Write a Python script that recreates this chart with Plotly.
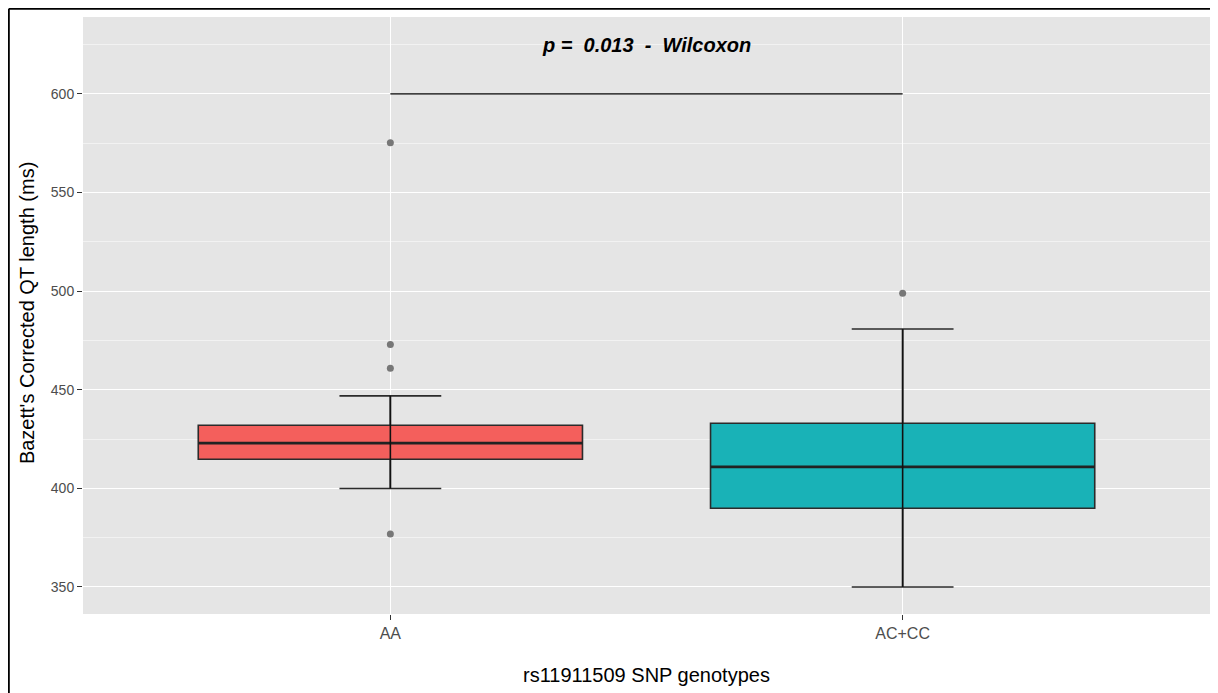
import plotly.graph_objects as go

categories = ["AA", "AC+CC"]
q1 = [414.8, 389.9]
median = [422.9, 410.9]
q3 = [432.0, 433.0]
lower_whisker = [399.9, 350.0]
upper_whisker = [446.9, 480.8]
outliers = {"AA": [575.2, 472.9, 460.9, 376.9], "AC+CC": [498.9]}
fill_colors = ["#F45F5C", "#19B2B7"]
p_text = "p =&nbsp; 0.013 &nbsp;- &nbsp;Wilcoxon"
p_bracket_y = 600
p_text_y = 625
yticks = [350, 400, 450, 500, 550, 600]
y_title = "Bazett's Corrected QT length (ms)"
x_title = "rs11911509 SNP genotypes"

W, H = 1210, 685
ML, MR, MT, MB = 75, 8, 9, 79
PW, PH = W - ML - MR, H - MT - MB

fig = go.Figure()

for i, cat in enumerate(categories):
    fig.add_trace(go.Box(
        x=[cat], q1=[q1[i]], median=[median[i]], q3=[q3[i]],
        lowerfence=[lower_whisker[i]], upperfence=[upper_whisker[i]],
        fillcolor=fill_colors[i], line=dict(color="#2b2b2b", width=1.6),
        width=0.75, whiskerwidth=0.265, boxpoints=False, showlegend=False,
        hoverinfo="skip",
    ))
    # whisker (errorbar) line drawn through the box, as in ggplot
    fig.add_trace(go.Scatter(
        x=[cat, cat], y=[lower_whisker[i], upper_whisker[i]], mode="lines",
        line=dict(color="#111111", width=1.6), showlegend=False, hoverinfo="skip",
    ))
    # thick median line
    fig.add_trace(go.Box(
        x=[cat], q1=[median[i]], median=[median[i]], q3=[median[i]],
        lowerfence=[median[i]], upperfence=[median[i]],
        fillcolor="rgba(0,0,0,0)", line=dict(color="#222222", width=2.8),
        width=0.75, whiskerwidth=0, boxpoints=False, showlegend=False,
        hoverinfo="skip",
    ))
    fig.add_trace(go.Scatter(
        x=[cat] * len(outliers[cat]), y=outliers[cat], mode="markers",
        marker=dict(color="#777777", size=7), showlegend=False, hoverinfo="skip",
    ))

# significance bracket
fig.add_trace(go.Scatter(
    x=categories, y=[p_bracket_y, p_bracket_y], mode="lines",
    line=dict(color="black", width=1.2), showlegend=False, hoverinfo="skip",
))

fig.add_annotation(
    x=0.5, y=p_text_y, xref="x", yref="y", text="<b><i>" + p_text + "</i></b>",
    showarrow=False, font=dict(family="Liberation Sans, Arial", size=20, color="black"),
)

# y-axis title placed as annotation for exact position
fig.add_annotation(
    x=(19 - ML) / PW, y=0.504, xref="paper", yref="paper", text=y_title,
    textangle=-90, showarrow=False, xanchor="center", yanchor="middle",
    font=dict(family="Liberation Sans, Arial", size=20, color="black"),
)

# outer frame lines (top and left) like the reference crop
fx = (0.8 - ML) / PW
fy = (PH + MT - 0.8) / PH
fig.add_shape(type="line", xref="paper", yref="paper",
              x0=fx, x1=(W - ML) / PW, y0=fy, y1=fy,
              line=dict(color="black", width=2))
fig.add_shape(type="line", xref="paper", yref="paper",
              x0=fx, x1=fx, y0=-MB / PH, y1=fy,
              line=dict(color="black", width=2))

fig.update_layout(
    width=W, height=H,
    margin=dict(l=ML, r=MR, t=MT, b=MB),
    paper_bgcolor="white", plot_bgcolor="#E5E5E5",
    font=dict(family="Liberation Sans, Arial", color="#4d4d4d", size=14),
    boxmode="overlay",
    xaxis=dict(
        type="category", categoryorder="array", categoryarray=categories,
        range=[-0.6, 1.6], showgrid=True, gridcolor="white", gridwidth=1.4,
        ticks="outside", ticklen=5, tickcolor="#333333", tickwidth=1,
        tickfont=dict(size=16, color="#4d4d4d"), zeroline=False, showline=False,
        title=dict(text=x_title, font=dict(size=20, color="black"), standoff=26),
    ),
    yaxis=dict(
        range=[336.3, 639], tickvals=yticks, showgrid=True, gridcolor="white", gridwidth=1.4,
        minor=dict(dtick=25, tick0=325, showgrid=True, gridcolor="#F2F2F2", gridwidth=0.7),
        ticks="outside", ticklen=5, tickcolor="#333333", tickwidth=1,
        tickfont=dict(size=14, color="#4d4d4d"), zeroline=False, showline=False,
    ),
)

fig.write_html("out.html")
